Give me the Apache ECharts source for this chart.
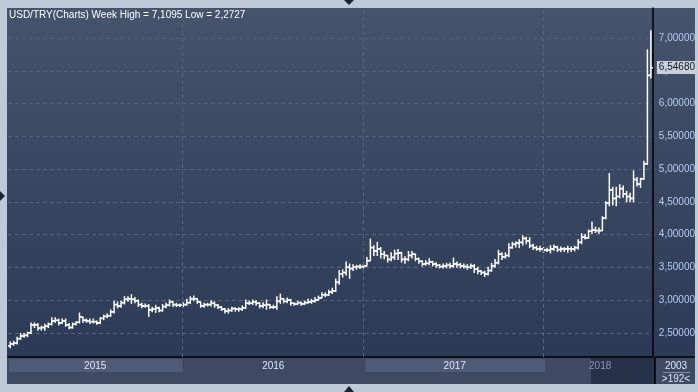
<!DOCTYPE html>
<html><head><meta charset="utf-8">
<script src="https://cdn.jsdelivr.net/npm/echarts@6/dist/echarts.min.js"></script>
<style>html,body{margin:0;padding:0;background:#bfcad8;}#c{width:698px;height:392px;}</style>
</head><body><div id="c"></div>
<script>
// ---------- data ----------
const symbolName = 'USD/TRY(Charts)';
const periodName = 'Week';
const firstWeek = Date.UTC(2015, 0, 19);
const opens = [
2.30,2.33,2.34,2.41,2.45,2.46,2.50,2.62,2.62,2.57,
2.58,2.60,2.63,2.68,2.69,2.65,2.68,2.62,2.58,2.63,
2.66,2.74,2.69,2.68,2.67,2.67,2.65,2.72,2.75,2.76,
2.82,2.93,2.91,2.96,3.01,3.02,3.01,2.99,2.93,2.91,
2.91,2.85,2.86,2.88,2.84,2.90,2.92,2.97,2.93,2.92,
2.92,2.93,2.96,3.02,3.02,2.97,2.91,2.93,2.93,2.95,
2.92,2.89,2.86,2.83,2.84,2.87,2.86,2.86,2.88,2.95,
2.95,2.97,2.95,2.91,2.92,2.93,2.89,2.89,2.98,3.02,
2.98,3.00,2.95,2.94,2.96,2.94,2.96,2.97,2.98,3.00,
3.03,3.08,3.08,3.12,3.14,3.27,3.40,3.42,3.50,3.48,
3.50,3.51,3.51,3.52,3.60,3.80,3.75,3.78,3.70,3.68,
3.62,3.65,3.71,3.72,3.62,3.62,3.68,3.70,3.63,3.59,
3.55,3.56,3.58,3.55,3.53,3.51,3.52,3.53,3.52,3.55,
3.54,3.52,3.51,3.50,3.52,3.47,3.44,3.42,3.40,3.45,
3.52,3.57,3.70,3.66,3.68,3.80,3.85,3.87,3.88,3.94,
3.90,3.83,3.80,3.78,3.78,3.76,3.76,3.78,3.81,3.77,
3.78,3.78,3.78,3.78,3.80,3.88,3.96,3.95,4.05,4.07,
4.06,4.06,4.25,4.48,4.68,4.55,4.58,4.70,4.62,4.58,
4.55,4.84,4.77,4.85,5.08,6.43];
const highs = [
2.36,2.37,2.43,2.49,2.49,2.51,2.65,2.65,2.64,2.60,
2.63,2.65,2.73,2.73,2.71,2.71,2.71,2.64,2.65,2.67,
2.80,2.74,2.71,2.71,2.71,2.68,2.73,2.77,2.79,2.85,
2.98,2.97,2.98,3.05,3.05,3.08,3.04,3.00,2.95,2.94,
2.93,2.89,2.92,2.89,2.93,2.95,3.00,2.98,2.95,2.94,
2.96,3.01,3.05,3.06,3.02,2.97,2.95,2.95,2.99,2.97,
2.93,2.90,2.87,2.87,2.89,2.88,2.88,2.91,3.00,2.98,
3.00,2.99,2.96,2.96,3.00,2.93,2.92,3.05,3.09,3.02,
3.03,3.01,2.96,2.98,2.97,2.98,3.01,3.01,3.04,3.06,
3.11,3.11,3.15,3.18,3.32,3.45,3.46,3.58,3.55,3.54,
3.53,3.54,3.54,3.65,3.93,3.83,3.88,3.80,3.74,3.68,
3.72,3.76,3.77,3.73,3.66,3.74,3.74,3.70,3.64,3.60,
3.60,3.63,3.59,3.57,3.54,3.55,3.56,3.56,3.64,3.58,
3.56,3.55,3.54,3.55,3.54,3.50,3.45,3.44,3.50,3.56,
3.62,3.76,3.72,3.72,3.86,3.88,3.89,3.92,3.98,3.96,
3.95,3.85,3.82,3.82,3.80,3.79,3.83,3.84,3.82,3.81,
3.80,3.82,3.81,3.82,3.92,4.01,4.00,4.07,4.19,4.11,
4.10,4.27,4.50,4.93,4.72,4.72,4.76,4.74,4.66,4.63,
4.97,4.87,4.86,5.12,6.82,7.1095];
const lows = [
2.2727,2.31,2.33,2.40,2.43,2.44,2.49,2.58,2.54,2.54,
2.54,2.58,2.62,2.66,2.62,2.64,2.60,2.56,2.57,2.62,
2.65,2.66,2.66,2.64,2.65,2.63,2.64,2.70,2.73,2.75,
2.80,2.88,2.89,2.94,2.98,2.95,2.96,2.90,2.88,2.89,
2.75,2.82,2.81,2.82,2.83,2.88,2.91,2.90,2.90,2.90,
2.90,2.92,2.95,2.99,2.95,2.89,2.89,2.91,2.91,2.89,
2.87,2.84,2.80,2.80,2.83,2.83,2.83,2.84,2.87,2.93,
2.93,2.92,2.88,2.88,2.86,2.87,2.87,2.86,2.95,2.96,
2.96,2.92,2.92,2.93,2.92,2.93,2.95,2.95,2.97,3.00,
3.03,3.05,3.07,3.10,3.13,3.24,3.35,3.38,3.33,3.45,
3.47,3.48,3.49,3.52,3.60,3.68,3.68,3.64,3.63,3.58,
3.60,3.62,3.62,3.58,3.56,3.60,3.64,3.60,3.56,3.52,
3.53,3.54,3.52,3.50,3.49,3.49,3.49,3.49,3.50,3.50,
3.49,3.49,3.47,3.48,3.42,3.40,3.39,3.36,3.38,3.44,
3.50,3.55,3.62,3.64,3.66,3.79,3.81,3.80,3.84,3.86,
3.80,3.77,3.76,3.75,3.73,3.74,3.72,3.76,3.74,3.74,
3.74,3.73,3.74,3.75,3.78,3.86,3.93,3.94,4.02,4.03,
4.02,4.06,4.24,4.44,4.45,4.44,4.56,4.57,4.50,4.50,
4.50,4.74,4.72,4.84,5.07,6.39];
const closes = [
2.33,2.34,2.41,2.45,2.46,2.50,2.62,2.62,2.57,2.58,
2.60,2.63,2.68,2.69,2.65,2.68,2.62,2.58,2.63,2.66,
2.74,2.69,2.68,2.67,2.67,2.65,2.72,2.75,2.76,2.82,
2.93,2.91,2.96,3.01,3.02,3.01,2.99,2.93,2.91,2.91,
2.85,2.86,2.88,2.84,2.90,2.92,2.97,2.93,2.92,2.92,
2.93,2.96,3.02,3.02,2.97,2.91,2.93,2.93,2.95,2.92,
2.89,2.86,2.83,2.84,2.87,2.86,2.86,2.88,2.95,2.95,
2.97,2.95,2.91,2.92,2.93,2.89,2.89,2.98,3.02,2.98,
3.00,2.95,2.94,2.96,2.94,2.96,2.97,2.98,3.00,3.03,
3.08,3.08,3.12,3.14,3.27,3.40,3.42,3.50,3.48,3.50,
3.51,3.51,3.52,3.60,3.80,3.75,3.78,3.70,3.68,3.62,
3.65,3.71,3.72,3.62,3.62,3.68,3.70,3.63,3.59,3.55,
3.56,3.58,3.55,3.53,3.51,3.52,3.53,3.52,3.55,3.54,
3.52,3.51,3.50,3.52,3.47,3.44,3.42,3.40,3.45,3.52,
3.57,3.70,3.66,3.68,3.80,3.85,3.87,3.88,3.94,3.90,
3.83,3.80,3.78,3.78,3.76,3.76,3.78,3.81,3.77,3.78,
3.78,3.78,3.78,3.80,3.88,3.96,3.95,4.05,4.07,4.06,
4.06,4.25,4.48,4.68,4.55,4.58,4.70,4.62,4.58,4.55,
4.84,4.77,4.85,5.08,6.43,6.5468];
const lastPrice = 6.5468;
const yTicks = [2.5, 3, 3.5, 4, 4.5, 5, 5.5, 6, 6.5, 7];
const yearLabels = ['2015', '2016', '2017', '2018'];
const yearStarts = [Date.UTC(2015,0,1), Date.UTC(2016,0,1), Date.UTC(2017,0,1), Date.UTC(2018,0,1), Date.UTC(2019,0,1)];
const footerTop = '2003';
const footerBottom = '>192<';

// ---------- build ----------
const DAY = 86400000;
const fmt = (v, d) => v.toFixed(d).replace('.', ',');
const ohlc = closes.map((c, i) => [firstWeek + i * 7 * DAY, opens[i], c, lows[i], highs[i]]);
const hi = Math.max(...highs), lo = Math.min(...lows);
const xMin = Date.UTC(2015, 0, 14, 12), xMax = Date.UTC(2018, 7, 10);
const FONT = 'Liberation Sans';
const gridColor = '#56647e';

function renderOHLC(params, api) {
  const t = api.value(0);
  const pO = api.coord([t, api.value(1)]);
  const pC = api.coord([t, api.value(2)]);
  const pL = api.coord([t, api.value(3)]);
  const pH = api.coord([t, api.value(4)]);
  const x = pO[0];
  const st = { stroke: '#ffffff', lineWidth: 1.5 };
  return { type: 'group', children: [
    { type: 'line', shape: { x1: x, y1: pH[1] - 0.5, x2: x, y2: pL[1] + 0.5 }, style: st },
    { type: 'line', shape: { x1: x - 2.5, y1: pO[1], x2: x, y2: pO[1] }, style: st },
    { type: 'line', shape: { x1: x, y1: pC[1], x2: x + 2.5, y2: pC[1] }, style: st }
  ]};
}

function renderYears(params, api) {
  const cs = params.coordSys;
  const i = api.value(2);
  let x1 = api.coord([api.value(0), 0])[0];
  let x2 = api.coord([api.value(1), 0])[0];
  x1 = Math.max(x1, cs.x); x2 = Math.min(x2, cs.x + cs.width);
  const children = [];
  if (i % 2 === 0 && i < 3) {
    children.push({ type: 'rect', shape: { x: x1 + 1, y: cs.y + 2, width: x2 - x1 - 1, height: 13 }, style: { fill: '#4e5c77' } });
  }
  children.push({ type: 'text', x: (x1 + x2) / 2, y: cs.y + 9, style: {
    text: yearLabels[i], fill: i === 3 ? '#8e9aae' : '#dfe7f2', font: '10px "' + FONT + '"', align: 'center', verticalAlign: 'middle' } });
  return { type: 'group', children };
}

const chart = echarts.init(document.getElementById('c'), null, { renderer: 'canvas' });
chart.setOption({
  animation: false,
  backgroundColor: '#bfcad8',
  title: {
    text: symbolName + ' ' + periodName + ' High = ' + fmt(hi, 4) + ' Low = ' + fmt(lo, 4),
    left: 9, top: 10, padding: 0,
    textStyle: { color: '#ffffff', fontSize: 10, fontWeight: 'normal', fontFamily: FONT }
  },
  graphic: [
    { type: 'rect', z: -1, silent: true, shape: { x: 7, y: 8, width: 688, height: 349 },
      style: { fill: new echarts.graphic.LinearGradient(0, 0, 0, 1, [
        { offset: 0, color: '#46536c' }, { offset: 1, color: '#2c3a57' }]) } },
    { type: 'rect', z: -1, silent: true, shape: { x: 7, y: 357, width: 688, height: 27 }, style: { fill: '#3e4a64' } },
    { type: 'rect', z: 1, silent: true, shape: { x: 591, y: 358, width: 64, height: 26 }, style: { fill: '#26314a' } },
    { type: 'line', z: 10, silent: true, shape: { x1: 655, y1: 357, x2: 695, y2: 357 }, style: { stroke: '#000', lineWidth: 1.5 } },
    { type: 'line', z: 10, silent: true, shape: { x1: 655, y1: 357, x2: 655, y2: 384 }, style: { stroke: '#000', lineWidth: 1.5 } },
    { type: 'line', z: 10, silent: true, shape: { x1: 663, y1: 372.5, x2: 690, y2: 372.5 }, style: { stroke: '#8593aa', lineWidth: 1 } },
    { type: 'text', z: 10, silent: true, x: 676, y: 366, style: { text: footerTop, fill: '#dfe7f2', font: '10px "' + FONT + '"', align: 'center', verticalAlign: 'middle' } },
    { type: 'text', z: 10, silent: true, x: 676, y: 379, style: { text: footerBottom, fill: '#dfe7f2', font: '10px "' + FONT + '"', align: 'center', verticalAlign: 'middle' } },
    { type: 'polygon', z: 10, silent: true, shape: { points: [[344, 0], [354, 0], [349, 5]] }, style: { fill: '#1b2332' } },
    { type: 'polygon', z: 10, silent: true, shape: { points: [[344, 392], [354, 392], [349, 386]] }, style: { fill: '#1b2332' } },
    { type: 'polygon', z: 10, silent: true, shape: { points: [[0, 191], [0, 201], [5, 196]] }, style: { fill: '#1b2332' } }
  ],
  grid: [
    { left: 8, right: 43, top: 8, bottom: 35 },
    { left: 8, right: 43, top: 357, bottom: 8 }
  ],
  xAxis: [
    { type: 'time', gridIndex: 0, min: xMin, max: xMax,
      axisLine: { show: true, lineStyle: { color: '#000', width: 1.5 } },
      axisTick: { show: false }, axisLabel: { show: false }, splitLine: { show: false } },
    { type: 'time', gridIndex: 1, min: xMin, max: xMax, show: false }
  ],
  yAxis: [
    { type: 'value', gridIndex: 0, position: 'right', min: 2.13, max: 7.458,
      axisLine: { show: true, lineStyle: { color: '#000', width: 1.5 } },
      axisTick: { show: false, customValues: yTicks },
      axisLabel: { customValues: yTicks, margin: 6, color: '#b3cdf2', fontSize: 10, fontFamily: FONT,
        formatter: v => fmt(v, 5) },
      splitLine: { show: true, lineStyle: { color: gridColor, type: [4, 3], width: 1 } } },
    { type: 'value', gridIndex: 1, min: 0, max: 1, show: false }
  ],
  series: [
    { type: 'custom', xAxisIndex: 1, yAxisIndex: 1, silent: true,
      data: yearLabels.map((y, i) => [yearStarts[i], yearStarts[i + 1], i]),
      renderItem: renderYears, z: 2 },
    { type: 'custom', xAxisIndex: 0, yAxisIndex: 0, silent: true,
      data: ohlc, renderItem: renderOHLC, clip: true, z: 3,
      markLine: { symbol: 'none', silent: true, z: 5,
        data: [
          ...yearStarts.slice(1, 4).map(t => ({ xAxis: t, label: { show: false },
            lineStyle: { color: gridColor, type: [4, 3], width: 1 } })),
          { yAxis: lastPrice, lineStyle: { color: 'rgba(0,0,0,0)', width: 1, type: 'solid' },
            label: { show: true, position: 'end', distance: 4, formatter: fmt(lastPrice, 5),
              backgroundColor: '#c9d0da', color: '#121a26', fontSize: 10, fontFamily: FONT,
              padding: [2, 2, 1, 2] } }
        ] } }
  ]
});
</script></body></html>
